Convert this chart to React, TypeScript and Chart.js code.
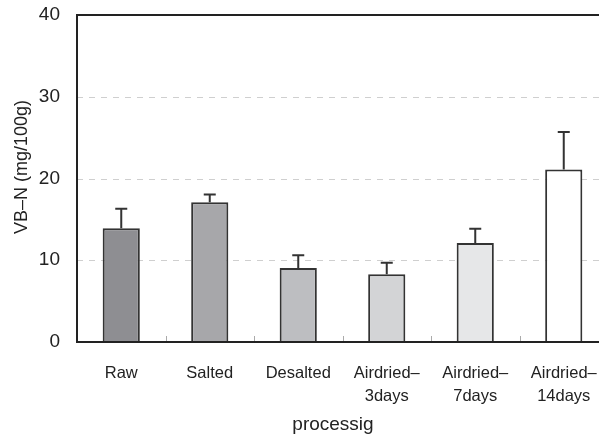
import React, { useEffect, useRef } from "react";
import { Chart, registerables } from "chart.js";

Chart.register(...registerables);

const categories: string[][] = [
  ["Raw"],
  ["Salted"],
  ["Desalted"],
  ["Airdried–", "3days"],
  ["Airdried–", "7days"],
  ["Airdried–", "14days"],
];
const means = [13.9, 17.1, 9.05, 8.3, 12.1, 21.1];
const errors = [2.4, 0.95, 1.55, 1.4, 1.75, 4.6];
const barColors = ["#8e8e92", "#a7a7aa", "#bdbec1", "#d3d4d6", "#e6e7e8", "#ffffff"];
const yTicks = [0, 10, 20, 30, 40];
const xTitle = "processig";
const yTitle = "VB–N (mg/100g)";

const FONT = "'Liberation Sans', Arial, sans-serif";

const decorPlugin = {
  id: "decor",
  beforeDatasetsDraw(chart: any) {
    const { ctx, chartArea, scales } = chart;
    const y = scales.y;
    ctx.save();
    ctx.strokeStyle = "#cfcfcf";
    ctx.lineWidth = 1;
    ctx.setLineDash([6, 6]);
    yTicks.forEach((v) => {
      if (v === yTicks[0] || v === yTicks[yTicks.length - 1]) return;
      const py = Math.round(y.getPixelForValue(v)) + 0.5;
      ctx.beginPath();
      ctx.moveTo(chartArea.left, py);
      ctx.lineTo(chartArea.right, py);
      ctx.stroke();
    });
    ctx.restore();
  },
  afterDatasetsDraw(chart: any) {
    const { ctx, chartArea, scales } = chart;
    const x = scales.x;
    const y = scales.y;
    ctx.save();
    ctx.strokeStyle = "#333";
    ctx.lineWidth = 2;
    ctx.setLineDash([]);
    means.forEach((m, i) => {
      const px = x.getPixelForValue(i);
      const top = y.getPixelForValue(m);
      const eTop = y.getPixelForValue(m + errors[i]);
      ctx.beginPath();
      ctx.moveTo(px, top);
      ctx.lineTo(px, eTop);
      ctx.moveTo(px - 6, eTop);
      ctx.lineTo(px + 6, eTop);
      ctx.stroke();
    });
    ctx.strokeStyle = "#aaa";
    ctx.lineWidth = 1;
    for (let i = 1; i < categories.length; i++) {
      const bx = Math.round((x.getPixelForValue(i - 1) + x.getPixelForValue(i)) / 2) + 0.5;
      ctx.beginPath();
      ctx.moveTo(bx, chartArea.bottom);
      ctx.lineTo(bx, chartArea.bottom - 6);
      ctx.stroke();
    }
    ctx.strokeStyle = "#222";
    ctx.lineWidth = 2;
    ctx.beginPath();
    ctx.moveTo(chartArea.left, chartArea.top);
    ctx.lineTo(chartArea.left, chartArea.bottom);
    ctx.moveTo(chartArea.left - 1, chartArea.bottom);
    ctx.lineTo(chartArea.right, chartArea.bottom);
    ctx.moveTo(chartArea.left - 1, chartArea.top);
    ctx.lineTo(chartArea.right, chartArea.top);
    ctx.stroke();
    ctx.restore();
  },
  afterDraw(chart: any) {
    const { ctx } = chart;
    ctx.save();
    ctx.fillStyle = "#222";
    ctx.textAlign = "center";
    ctx.textBaseline = "middle";
    ctx.font = `19px ${FONT}`;
    ctx.fillText(xTitle, 333, 425);
    ctx.translate(22, 167);
    ctx.rotate(-Math.PI / 2);
    ctx.font = `18px ${FONT}`;
    ctx.fillText(yTitle, 0, 0);
    ctx.restore();
  },
};

export default function App() {
  const canvasRef = useRef<HTMLCanvasElement | null>(null);

  useEffect(() => {
    if (!canvasRef.current) return;
    const chart = new Chart(canvasRef.current, {
      type: "bar",
      data: {
        labels: categories,
        datasets: [
          {
            data: means,
            backgroundColor: barColors,
            borderColor: "#333",
            borderWidth: 2,
            barPercentage: 0.42,
            categoryPercentage: 1,
          },
        ],
      },
      options: {
        animation: false,
        responsive: false,
        maintainAspectRatio: false,
        layout: { padding: { top: 15, left: 0, right: 2, bottom: 0 } },
        plugins: {
          legend: { display: false },
          tooltip: { enabled: false },
        },
        scales: {
          x: {
            offset: true,
            grid: { display: false },
            border: { display: false },
            ticks: {
              color: "#222",
              font: { family: FONT, size: 16.5, lineHeight: 1.4 },
              padding: 12,
              maxRotation: 0,
              autoSkip: false,
            },
            afterFit: (s: any) => {
              s.height = 92;
              s.paddingLeft = 0;
              s.paddingRight = 0;
            },
          },
          y: {
            min: 0,
            max: 40,
            grid: { display: false },
            border: { display: false },
            ticks: {
              stepSize: 10,
              color: "#222",
              font: { family: FONT, size: 19 },
              padding: 9,
            },
            afterFit: (s: any) => {
              s.width = 77;
              s.paddingTop = 0;
              s.paddingBottom = 0;
            },
          },
        },
      },
      plugins: [decorPlugin],
    });
    return () => chart.destroy();
  }, []);

  return (
    <div
      style={{
        position: "fixed",
        left: 0,
        top: 0,
        width: 599,
        height: 434,
        overflow: "hidden",
        background: "#fff",
      }}
    >
      <canvas ref={canvasRef} width={610} height={434} style={{ width: 610, height: 434, display: "block" }} />
    </div>
  );
}
